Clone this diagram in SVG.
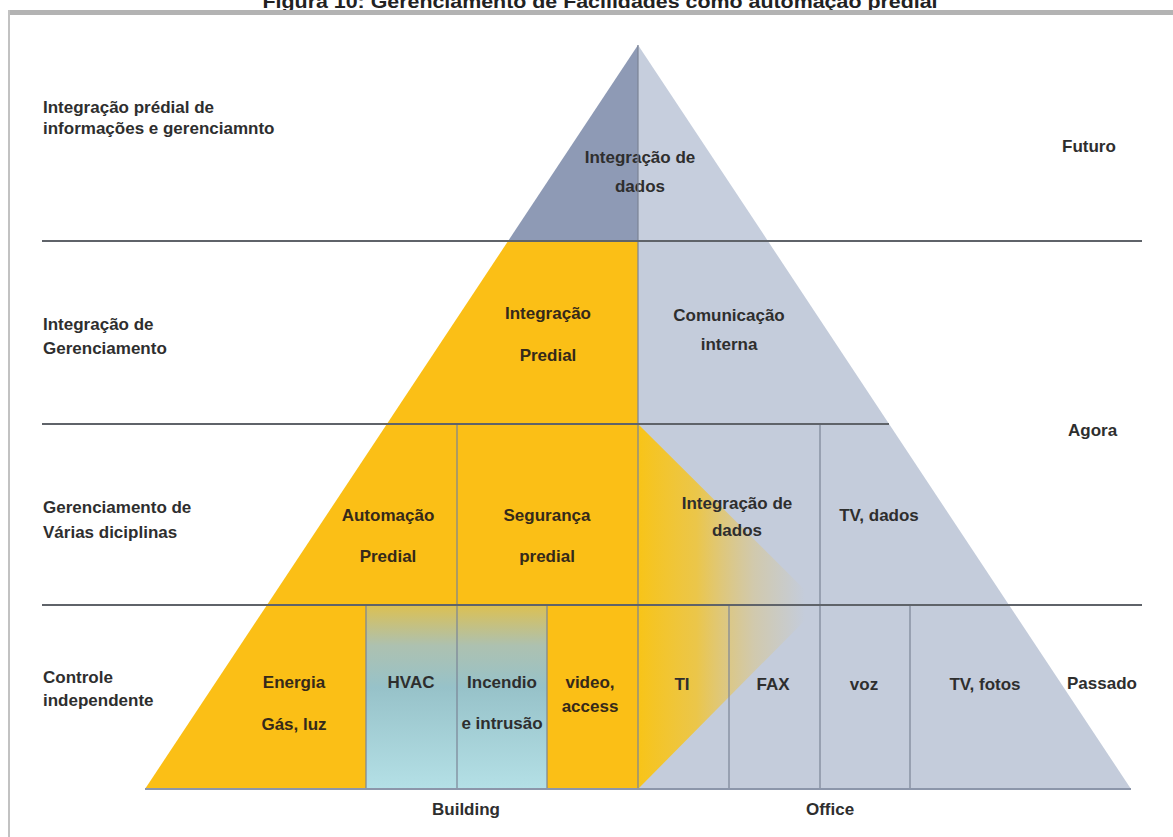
<svg xmlns="http://www.w3.org/2000/svg" width="1173" height="837" viewBox="0 0 1173 837">
<defs>
<style>
.lbl{font-family:"Liberation Sans",Arial,sans-serif;font-size:17px;font-weight:bold;fill:#2e2e2e}
.c{text-anchor:middle}
.y{fill:#35291a}
.hl{stroke:#5f6369;stroke-width:1.8;fill:none}
.vl{stroke:#7b8495;stroke-width:1.2;fill:none}
</style>
<linearGradient id="fade" gradientUnits="userSpaceOnUse" x1="638" y1="0" x2="805" y2="0">
<stop offset="0" stop-color="#f8c418" stop-opacity="1"/>
<stop offset="0.35" stop-color="#f2c530" stop-opacity="0.85"/>
<stop offset="0.7" stop-color="#e8c45a" stop-opacity="0.35"/>
<stop offset="1" stop-color="#e8c45a" stop-opacity="0"/>
</linearGradient>
<linearGradient id="cyan" x1="0" y1="0" x2="0" y2="1">
<stop offset="0" stop-color="#dcc052"/>
<stop offset="0.22" stop-color="#adc1b0"/>
<stop offset="0.45" stop-color="#97c2c9"/>
<stop offset="1" stop-color="#b4e0e6"/>
</linearGradient>
</defs>
<rect width="1173" height="837" fill="#ffffff"/>
<text class="lbl c" x="600" y="8" style="font-size:19px;fill:#222" textLength="675" lengthAdjust="spacingAndGlyphs">Figura 10: Gerenciamento de Facilidades como automação predial</text>
<rect x="8" y="10" width="1165" height="5" fill="#b3b3b3"/>
<rect x="8" y="10" width="2" height="827" fill="#c2c2c2"/>

<g id="row1">
<g id="n-integracao-dados-top">
<polygon points="638,45 508.1,241 638,241" fill="#8e9ab5"/>
<polygon points="638,45 767.9,241 638,241" fill="#c6cedd"/>
<text class="lbl c" x="640" y="163">Integração de</text>
<text class="lbl c" x="640" y="192">dados</text>
</g>
</g>

<g id="row2">
<g id="n-integracao-predial">
<polygon points="508.1,241 386.9,424 638,424 638,241" fill="#fbbf16"/>
<text class="lbl c y" x="548" y="319">Integração</text>
<text class="lbl c y" x="548" y="361">Predial</text>
</g>
<g id="n-comunicacao-interna">
<polygon points="638,241 767.9,241 889.1,424 638,424" fill="#c4ccdb"/>
<text class="lbl c" x="729" y="321">Comunicação</text>
<text class="lbl c" x="729" y="350">interna</text>
</g>
</g>

<g id="row3">
<g id="n-automacao-predial">
<polygon points="386.9,424 267,605 457,605 457,424" fill="#fbbf16"/>
<text class="lbl c y" x="388" y="521">Automação</text>
<text class="lbl c y" x="388" y="562">Predial</text>
</g>
<g id="n-seguranca-predial">
<rect x="457" y="424" width="181" height="181" fill="#fbbf16"/>
<text class="lbl c y" x="547" y="521">Segurança</text>
<text class="lbl c y" x="547" y="562">predial</text>
</g>
<g id="n-office-grey">
<polygon points="638,424 889.1,424 1009,605 638,605" fill="#c4ccdb"/>
</g>
<g id="n-tv-dados">
<text class="lbl c" x="879" y="521">TV, dados</text>
</g>
</g>

<g id="row4">
<g id="n-energia">
<polygon points="267,605 145,789 366,789 366,605" fill="#fbbf16"/>
<text class="lbl c y" x="294" y="688">Energia</text>
<text class="lbl c y" x="294" y="730">Gás, luz</text>
</g>
<g id="n-hvac">
<rect x="366" y="605" width="91" height="184" fill="url(#cyan)"/>
<text class="lbl c" x="411" y="688">HVAC</text>
</g>
<g id="n-incendio">
<rect x="457" y="605" width="90" height="184" fill="url(#cyan)"/>
<text class="lbl c" x="502" y="688">Incendio</text>
<text class="lbl c" x="502" y="729">e intrusão</text>
</g>
<g id="n-video">
<rect x="547" y="605" width="91" height="184" fill="#fbbf16"/>
<text class="lbl c y" x="590" y="688">video,</text>
<text class="lbl c y" x="590" y="712">access</text>
</g>
<g id="n-office-row4">
<polygon points="638,605 1009,605 1131,789 638,789" fill="#c4ccdb"/>
</g>
</g>

<g id="n-fade">
<polygon points="638,424 820,605 638,789" fill="url(#fade)"/>
</g>
<g id="n-integracao-dados-mid">
<text class="lbl c" x="737" y="509">Integração de</text>
<text class="lbl c" x="737" y="536">dados</text>
</g>
<g id="n-ti"><text class="lbl c" x="682" y="690">TI</text></g>
<g id="n-fax"><text class="lbl c" x="773" y="690">FAX</text></g>
<g id="n-voz"><text class="lbl c" x="864" y="690">voz</text></g>
<g id="n-tv-fotos"><text class="lbl c" x="985" y="690">TV, fotos</text></g>

<g id="connectors">
<line class="vl" x1="638" y1="45" x2="638" y2="789"/>
<line class="vl" x1="457" y1="424" x2="457" y2="789"/>
<line class="vl" x1="820" y1="424" x2="820" y2="789"/>
<line class="vl" x1="366" y1="605" x2="366" y2="789"/>
<line class="vl" x1="547" y1="605" x2="547" y2="789"/>
<line class="vl" x1="729" y1="605" x2="729" y2="789"/>
<line class="vl" x1="910" y1="605" x2="910" y2="789"/>
<line class="hl" x1="42" y1="241" x2="1142" y2="241"/>
<line class="hl" x1="42" y1="424" x2="889" y2="424"/>
<line class="hl" x1="42" y1="605" x2="1142" y2="605"/>
<line x1="145" y1="789" x2="1131" y2="789" stroke="#8c96aa" stroke-width="2"/>
</g>

<g id="row-labels">
<text class="lbl" x="43" y="113">Integração prédial de</text>
<text class="lbl" x="43" y="134">informações e gerenciamnto</text>
<text class="lbl" x="43" y="330">Integração de</text>
<text class="lbl" x="43" y="354">Gerenciamento</text>
<text class="lbl" x="43" y="513">Gerenciamento de</text>
<text class="lbl" x="43" y="538">Várias diciplinas</text>
<text class="lbl" x="43" y="683">Controle</text>
<text class="lbl" x="43" y="706">independente</text>
<text class="lbl" x="1062" y="152">Futuro</text>
<text class="lbl" x="1068" y="436">Agora</text>
<text class="lbl" x="1067" y="689">Passado</text>
<text class="lbl c" x="466" y="815">Building</text>
<text class="lbl c" x="830" y="815">Office</text>
</g>
</svg>
